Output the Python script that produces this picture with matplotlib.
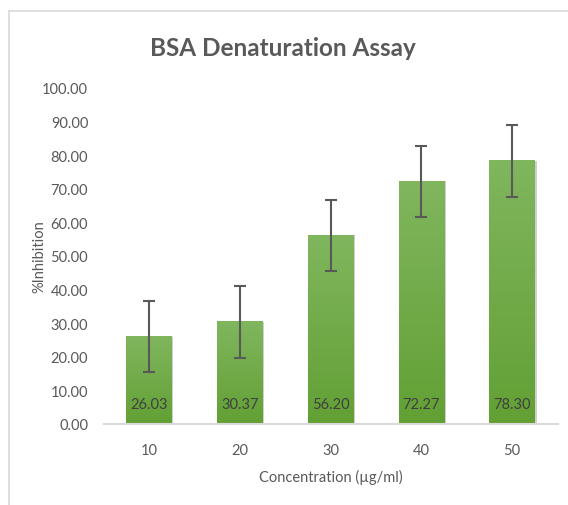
import matplotlib
matplotlib.use("Agg")
import matplotlib.pyplot as plt
import numpy as np
from matplotlib.colors import LinearSegmentedColormap
from matplotlib.patches import Rectangle

# data
concentrations = ["10", "20", "30", "40", "50"]
inhibition = [26.03, 30.37, 56.20, 72.27, 78.30]
errors = [10.6, 10.6, 10.6, 10.6, 10.6]

plt.rcParams['font.family'] = ['Lato', 'DejaVu Sans']
grey = "#595959"

fig = plt.figure(figsize=(5.68, 5.06), dpi=100)
W, H = 568, 506
ax = fig.add_axes([103.5 / W, (H - 425) / H, (557.5 - 103.5) / W, (425 - 89) / H])

x = np.arange(len(concentrations))
width = 0.5
green = LinearSegmentedColormap.from_list("g", ["#62a034", "#80b65e"])
grad = np.linspace(0, 1, 256).reshape(-1, 1)

for xi, v in zip(x, inhibition):
    # soft shadow
    ax.add_patch(Rectangle((xi - width / 2 + 0.02, 0), width, v, color="#cfcfcf", zorder=1, lw=0))
    ax.imshow(grad, extent=(xi - width / 2, xi + width / 2, 0, v), origin="lower",
              cmap=green, aspect="auto", zorder=2)
    ax.text(xi, 6, f"{v:.2f}", ha="center", va="center", fontsize=10.5, color="#404040", zorder=4)

ax.errorbar(x, inhibition, yerr=errors, fmt="none", ecolor=grey, elinewidth=1.5,
            capsize=4, capthick=1.5, zorder=3)

ax.set_xlim(-0.5, len(concentrations) - 0.5)
ax.set_ylim(0, 100)
ax.set_yticks(np.arange(0, 101, 10))
ax.set_yticklabels([f"{t:.2f}" for t in np.arange(0, 101, 10)])
ax.set_xticks(x)
ax.set_xticklabels(concentrations)
ax.tick_params(length=0, labelsize=10.5, colors=grey)
ax.tick_params(axis="x", pad=14)
ax.tick_params(axis="y", pad=11)

for s in ["top", "right", "left"]:
    ax.spines[s].set_visible(False)
ax.spines["bottom"].set_color("#d9d9d9")
ax.spines["bottom"].set_linewidth(1.5)

ax.set_xlabel("Concentration (µg/ml)", fontsize=10.5, color=grey, labelpad=8)
ax.set_ylabel("%Inhibition", fontsize=10.5, color=grey, labelpad=-3)

fig.text(283 / W, 1 - 48 / H, "BSA Denaturation Assay", ha="center", va="center",
         fontsize=17.5, fontweight="bold", color=grey)

# chart frame
fig.add_artist(plt.Line2D([9 / W, 1], [1 - 12 / H, 1 - 12 / H], color="#d9d9d9", lw=1.2))
fig.add_artist(plt.Line2D([9 / W, 9 / W], [0, 1 - 12 / H], color="#d9d9d9", lw=1.2))

fig.savefig("out.png", dpi=100)
